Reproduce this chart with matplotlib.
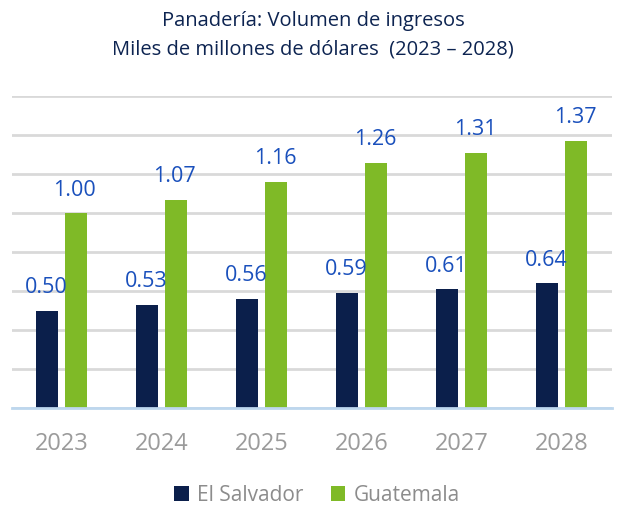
import matplotlib
matplotlib.use('Agg')
import matplotlib.pyplot as plt
import numpy as np

years = ['2023', '2024', '2025', '2026', '2027', '2028']
el_salvador = [0.50, 0.53, 0.56, 0.59, 0.61, 0.64]
guatemala = [1.00, 1.07, 1.16, 1.26, 1.31, 1.37]

plt.rcParams['font.family'] = ['Open Sans', 'DejaVu Sans']

navy = '#0B1F4B'
green = '#7FBA27'
label_blue = '#1A50BC'

fig = plt.figure(figsize=(6.19, 5.09), dpi=100)
ax = fig.add_axes([0.019, 0.198, 0.970, 0.613])

x = np.arange(len(years))
w = 0.22
ax.bar(x - 0.15, el_salvador, w, color=navy, label='El Salvador', zorder=3)
ax.bar(x + 0.14, guatemala, w, color=green, label='Guatemala', zorder=3)

for xi, v in zip(x, el_salvador):
    ax.text(xi - 0.16, v + 0.065, f'{v:.2f}', ha='center', va='bottom',
            fontsize=15.5, color=label_blue)
for xi, v in zip(x, guatemala):
    ax.text(xi + 0.13, v + 0.065, f'{v:.2f}', ha='center', va='bottom',
            fontsize=15.5, color=label_blue)

ax.set_xlim(-0.5, len(years) - 0.5)
ax.set_ylim(0, 1.6)
ax.set_yticks(np.arange(0, 1.61, 0.2))
ax.set_yticklabels([])
ax.tick_params(axis='y', length=0)
ax.yaxis.grid(True, color='#D9D9D9', linewidth=2, zorder=0)
ax.set_xticks(x)
ax.set_xticklabels(years, fontsize=17, color='#9B9B9B')
ax.tick_params(axis='x', length=0, pad=17)
for s in ['top', 'right', 'left']:
    ax.spines[s].set_visible(False)
ax.spines['bottom'].set_color('#BDD7EE')
ax.spines['bottom'].set_linewidth(2)
ax.spines['bottom'].set_zorder(4)

fig.text(0.506, 0.958, 'Panadería: Volumen de ingresos', ha='center', va='center',
         fontsize=14.5, color='#0D2451')
fig.text(0.506, 0.903, 'Miles de millones de dólares  (2023 – 2028)', ha='center',
         va='center', fontsize=14.5, color='#0D2451')

fig.legend(loc='center', bbox_to_anchor=(0.512, 0.027), ncol=2, frameon=False,
           fontsize=15, labelcolor='#8C8C8C', handlelength=0.7, handleheight=0.7,
           columnspacing=1.3, handletextpad=0.4)

fig.savefig('out.png', dpi=100)
